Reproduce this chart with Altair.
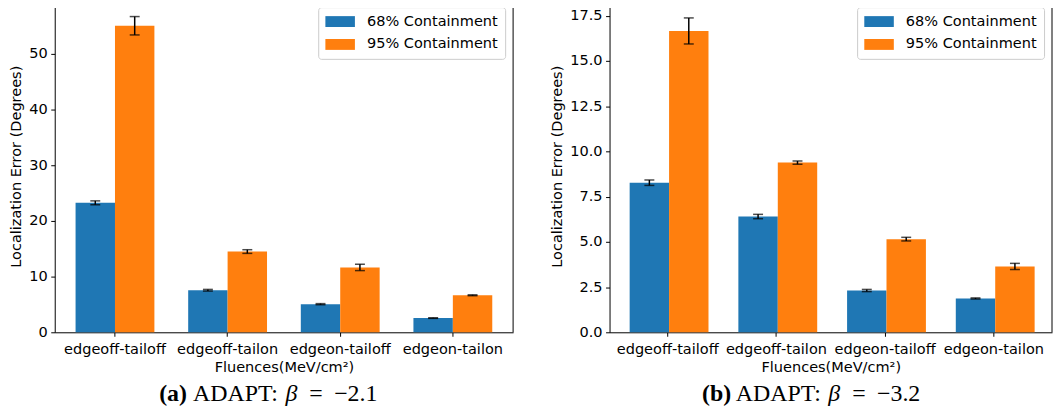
import altair as alt
import pandas as pd

categories = ["edgeoff-tailoff", "edgeoff-tailon", "edgeon-tailoff", "edgeon-tailon"]
series = ["68% Containment", "95% Containment"]

# Panel (a) ADAPT beta = -2.1
a_68 = [23.25, 7.55, 5.05, 2.55]
a_68_err = [0.35, 0.15, 0.10, 0.05]
a_95 = [55.05, 14.5, 11.65, 6.65]
a_95_err = [1.65, 0.33, 0.57, 0.08]

# Panel (b) ADAPT beta = -3.2
b_68 = [8.27, 6.40, 2.31, 1.87]
b_68_err = [0.15, 0.12, 0.06, 0.03]
b_95 = [16.66, 9.38, 5.15, 3.64]
b_95_err = [0.72, 0.09, 0.10, 0.17]

a_yticks = [0, 10, 20, 30, 40, 50]
b_yticks = [0, 2.5, 5, 7.5, 10, 12.5, 15, 17.5]

colors = ["#1f77b4", "#ff7f0e"]
FONT = "DejaVu Sans"
FS = 14.6
H = 334


def make_df(v68, e68, v95, e95):
    rows = []
    for i, c in enumerate(categories):
        for s, v, e in ((series[0], v68[i], e68[i]), (series[1], v95[i], e95[i])):
            rows.append({"cat": c, "series": s, "value": v, "lo": v - e, "hi": v + e})
    return pd.DataFrame(rows)


def txt(text, x, y, **kw):
    return alt.Chart(pd.DataFrame({"t": [text]})).mark_text(
        font="Liberation Serif", fontSize=24, align="left", baseline="alphabetic",
        color="black", **kw).encode(text="t:N", x=alt.value(x), y=alt.value(y))


def panel(df, w, ymax, yticks, fmt, tag, num_txt, s):
    x = alt.X("cat:N", sort=categories,
              scale=alt.Scale(paddingInner=0.3, paddingOuter=0.185),
              axis=alt.Axis(title="Fluences(MeV/cm²)", labelAngle=0, labelPadding=5,
                            titlePadding=4))
    xo = alt.XOffset("series:N", sort=series,
                     scale=alt.Scale(paddingInner=0, paddingOuter=0))
    y = alt.Y("value:Q", scale=alt.Scale(domain=[0, ymax], nice=False, zero=True),
              axis=alt.Axis(values=yticks, format=fmt,
                            title="Localization Error (Degrees)",
                            labelPadding=3.5, titlePadding=5))
    base = alt.Chart(df)
    bars = base.mark_bar().encode(
        x=x, xOffset=xo, y=y,
        color=alt.Color("series:N", sort=series,
                        scale=alt.Scale(domain=series, range=colors),
                        legend=alt.Legend(title=None, orient="none",
                                          legendX=w - 196, legendY=7,
                                          padding=7, fillColor="white",
                                          strokeColor="#cccccc", cornerRadius=3,
                                          symbolType="M-1,-0.75H3.07V0.75H-1Z",
                                          symbolSize=213, symbolStrokeWidth=0,
                                          symbolOpacity=1,
                                          labelFont=FONT, labelFontSize=FS,
                                          labelColor="black", labelOffset=27,
                                          rowPadding=7)),
    )
    rule = base.mark_rule(color="black", strokeWidth=1.5).encode(
        x=x, xOffset=xo, y=alt.Y("lo:Q"), y2="hi:Q")
    cap_lo = base.mark_tick(color="black", size=10, thickness=1.5,
                            orient="horizontal").encode(x=x, xOffset=xo, y=alt.Y("lo:Q"))
    cap_hi = base.mark_tick(color="black", size=10, thickness=1.5,
                            orient="horizontal").encode(x=x, xOffset=xo, y=alt.Y("hi:Q"))
    spine = alt.Chart(pd.DataFrame({"t": [0]})).mark_rule(
        color="black", strokeWidth=1).encode(
        x=alt.value(w), y=alt.value(0), y2=alt.value(H))

    cap_y = 403.5
    t1 = txt(tag, s, cap_y, fontWeight="bold")
    t2 = txt("ADAPT:", s + 34, cap_y)
    t3 = txt("β", s + 127, cap_y, fontStyle="italic")
    t4 = txt("=", s + 151, cap_y)
    t5 = txt(num_txt, s + 176, cap_y)

    return alt.layer(bars, rule, cap_lo, cap_hi, spine, t1, t2, t3, t4, t5).properties(
        width=w, height=H)


df_a = make_df(a_68, a_68_err, a_95, a_95_err)
df_b = make_df(b_68, b_68_err, b_95, b_95_err)

left = panel(df_a, 461, 59.64, a_yticks, "d", "(a)", "\u22122.1", 105)
right = panel(df_b, 445, 18.36, b_yticks, ".1f", "(b)", "\u22123.2", 93)

chart = alt.hconcat(left, right, spacing=36).resolve_scale(
    color="independent").resolve_legend(color="independent").properties(
    padding={"top": -10, "left": 0, "right": 0, "bottom": 0},
    background="white",
).configure_view(stroke=None).configure_axis(
    labelFont=FONT, labelFontSize=FS, labelColor="black",
    titleFont=FONT, titleFontSize=FS, titleFontWeight="normal", titleColor="black",
    tickColor="black", tickSize=4, tickWidth=1, domain=True, domainColor="black",
    domainWidth=1, grid=False,
)

chart.save("out.html", embed_options={"renderer": "svg", "actions": False})
